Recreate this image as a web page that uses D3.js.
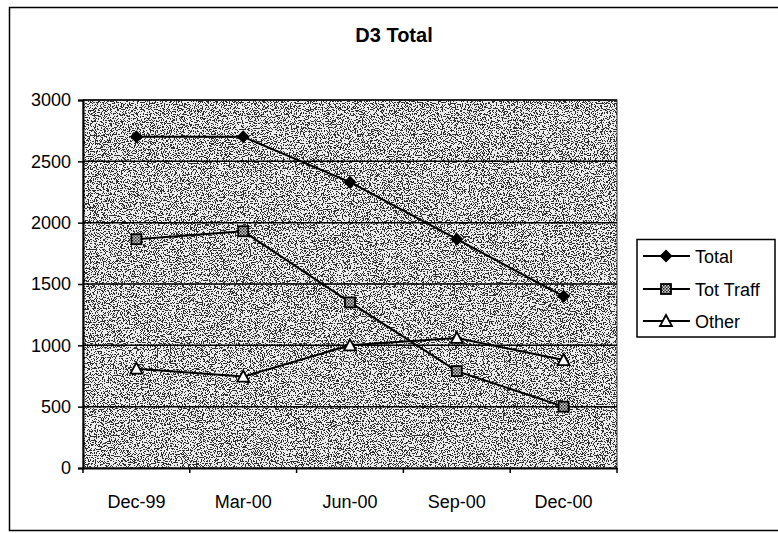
<!DOCTYPE html>
<html>
<head>
<meta charset="utf-8">
<script src="https://cdn.jsdelivr.net/npm/d3@7"></script>
<style>
  html, body { margin: 0; padding: 0; background: #fff; }
  svg { display: block; }
  text { font-family: "Liberation Sans", Arial, sans-serif; fill: #000; }
</style>
</head>
<body>
<svg id="chart" width="778" height="533"></svg>
<script>
const categories = ["Dec-99", "Mar-00", "Jun-00", "Sep-00", "Dec-00"];
const totalValues = [2700, 2700, 2330, 1865, 1400];
const totTraffValues = [1865, 1930, 1350, 790, 500];
const otherValues = [810, 745, 1000, 1060, 880];
const yTickValues = [0, 500, 1000, 1500, 2000, 2500, 3000];
const seriesNames = ["Total", "Tot Traff", "Other"];
const chartTitle = "D3 Total";

const svg = d3.select("#chart");
const plot = { left: 83, right: 617, top: 100, bottom: 468 };

const defs = svg.append("defs");
const f = defs.append("filter").attr("id", "stipple")
  .attr("filterUnits", "userSpaceOnUse")
  .attr("x", plot.left).attr("y", plot.top)
  .attr("width", plot.right - plot.left).attr("height", plot.bottom - plot.top);
f.append("feTurbulence").attr("type", "fractalNoise").attr("baseFrequency", "0.85")
  .attr("numOctaves", 2).attr("seed", 7).attr("result", "n");
f.append("feColorMatrix").attr("in", "n").attr("type", "matrix")
  .attr("values", "0 0 0 0 0  0 0 0 0 0  0 0 0 0 0  -10 0 0 0 5.05").attr("result", "a");
const ct = f.append("feComponentTransfer").attr("in", "a").attr("result", "b");
ct.append("feFuncA").attr("type", "discrete").attr("tableValues", "0 1");

const sq = defs.append("pattern").attr("id", "sqfill").attr("patternUnits", "userSpaceOnUse")
  .attr("width", 3).attr("height", 3);
sq.append("rect").attr("width", 3).attr("height", 3).attr("fill", "#ccc");
sq.append("rect").attr("width", 1.5).attr("height", 1.5).attr("fill", "#222");
sq.append("rect").attr("x", 1.5).attr("y", 1.5).attr("width", 1.5).attr("height", 1.5).attr("fill", "#444");

// outer chart border
svg.append("rect").attr("x", 9.5).attr("y", 7.5).attr("width", 800).attr("height", 523)
  .attr("fill", "none").attr("stroke", "#000").attr("stroke-width", 1.5);

// title
svg.append("text").attr("x", 394).attr("y", 42).attr("text-anchor", "middle")
  .attr("font-size", 20).attr("font-weight", "bold").text(chartTitle);

const x = d3.scaleBand().domain(categories).range([plot.left, plot.right]);
const y = d3.scaleLinear().domain([0, 3000]).range([plot.bottom, plot.top]);
const cx = c => x(c) + x.bandwidth() / 2;

// plot background
svg.append("rect").attr("x", plot.left).attr("y", plot.top)
  .attr("width", plot.right - plot.left).attr("height", plot.bottom - plot.top)
  .attr("fill", "#ececec");
svg.append("rect").attr("x", plot.left).attr("y", plot.top)
  .attr("width", plot.right - plot.left).attr("height", plot.bottom - plot.top)
  .attr("fill", "#000").attr("filter", "url(#stipple)").attr("opacity", 0.8);
svg.append("rect").attr("x", plot.left).attr("y", plot.top)
  .attr("width", plot.right - plot.left).attr("height", plot.bottom - plot.top)
  .attr("fill", "none").attr("stroke", "#333").attr("stroke-width", 1);

// gridlines
svg.append("g").selectAll("line").data(yTickValues.filter(v => v > 0)).join("line")
  .attr("x1", plot.left).attr("x2", plot.right)
  .attr("y1", d => y(d)).attr("y2", d => y(d))
  .attr("stroke", "#000").attr("stroke-width", 1.5);

// y axis
const yAxis = svg.append("g").attr("transform", `translate(${plot.left},0)`)
  .call(d3.axisLeft(y).tickValues(yTickValues).tickSize(5).tickPadding(7).tickFormat(d3.format("d")));
yAxis.select(".domain").attr("stroke", "#000").attr("stroke-width", 2);
yAxis.selectAll(".tick line").attr("stroke", "#000").attr("stroke-width", 1.5);
yAxis.selectAll("text").attr("font-size", 18).attr("font-family", "Liberation Sans, Arial, sans-serif");

// x axis
const xAxis = svg.append("g").attr("transform", `translate(0,${plot.bottom})`)
  .call(d3.axisBottom(x).tickSize(0).tickPadding(27));
xAxis.select(".domain").attr("stroke", "#000").attr("stroke-width", 2);
xAxis.selectAll("text").attr("font-size", 18).attr("font-family", "Liberation Sans, Arial, sans-serif");
const bounds = categories.map(c => x(c)).concat([x(categories[categories.length - 1]) + x.bandwidth()]);
svg.append("g").selectAll("line").data(bounds).join("line")
  .attr("x1", d => d).attr("x2", d => d)
  .attr("y1", plot.bottom).attr("y2", plot.bottom + 5)
  .attr("stroke", "#000").attr("stroke-width", 1.5);

// series
const series = [
  { name: seriesNames[0], values: totalValues, marker: "diamond" },
  { name: seriesNames[1], values: totTraffValues, marker: "square" },
  { name: seriesNames[2], values: otherValues, marker: "triangle" }
];
const line = d3.line().x((d, i) => cx(categories[i])).y(d => y(d));

function drawMarker(g, type, px, py) {
  if (type === "diamond") {
    g.append("path").attr("d", `M${px},${py - 6.5}L${px + 6.5},${py}L${px},${py + 6.5}L${px - 6.5},${py}Z`)
      .attr("fill", "#000");
  } else if (type === "square") {
    g.append("rect").attr("x", px - 5).attr("y", py - 5).attr("width", 10).attr("height", 10)
      .attr("fill", "url(#sqfill)").attr("stroke", "#000").attr("stroke-width", 1.8);
  } else {
    g.append("path").attr("d", `M${px},${py - 6}L${px + 6},${py + 5}L${px - 6},${py + 5}Z`)
      .attr("fill", "#fff").attr("stroke", "#000").attr("stroke-width", 1.8);
  }
}

series.forEach(s => {
  svg.append("path").datum(s.values).attr("d", line)
    .attr("fill", "none").attr("stroke", "#000").attr("stroke-width", 2);
  const g = svg.append("g");
  s.values.forEach((v, i) => drawMarker(g, s.marker, cx(categories[i]), y(v)));
});

// legend
const lg = svg.append("g");
lg.append("rect").attr("x", 637).attr("y", 239.5).attr("width", 138).attr("height", 97.5)
  .attr("fill", "#fff").attr("stroke", "#000").attr("stroke-width", 1.5);
const legendY = [256, 289, 321];
series.forEach((s, i) => {
  const ly = legendY[i];
  lg.append("line").attr("x1", 643).attr("x2", 690).attr("y1", ly).attr("y2", ly)
    .attr("stroke", "#000").attr("stroke-width", 2);
  drawMarker(lg, s.marker, 666, ly);
  lg.append("text").attr("x", 695).attr("y", ly + 6.5).attr("font-size", 18).text(s.name);
});
</script>
</body>
</html>
